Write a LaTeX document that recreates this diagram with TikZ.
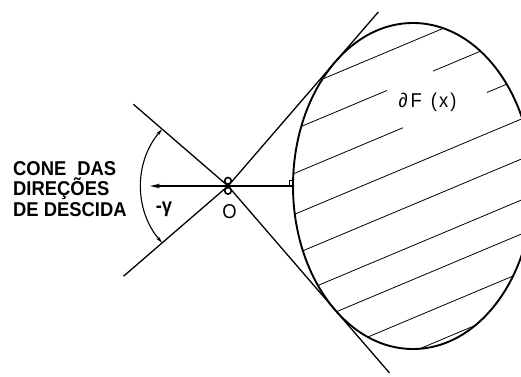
\documentclass[tikz,border=0pt]{standalone}
\usepackage{fontspec}
\setmainfont{Liberation Sans}
\newfontfamily\lettering[FakeStretch=0.92]{Liberation Sans}
\usetikzlibrary{arrows.meta,calc}
\begin{document}
\begin{tikzpicture}[x=1pt,y=1pt,
  rim/.style={line width=1.9pt},
  ray/.style={line width=1.3pt},
  hatch/.style={line width=0.8pt},
  lbl/.style={font=\lettering\fontsize{20}{22}\selectfont\bfseries, inner sep=0pt},
  plain/.style={font=\lettering\fontsize{20}{22}\selectfont, inner sep=0pt}]
\useasboundingbox (0,0) rectangle (521,376);
\coordinate (O) at (228,190);
\coordinate (C) at (413,190);
\coordinate (T1) at ($(O)+(49.18:230)$);
\coordinate (T2) at ($(O)+(-49.18:247)$);
\coordinate (K1) at ($(O)+(139.18:125)$);
\coordinate (K2) at ($(O)+(220.82:138)$);
\coordinate (P) at (293,190);
\coordinate (G) at (150,190);
% hatching
\begin{scope}
  \clip (C) ellipse [x radius=120, y radius=163];
  \foreach \c/\xa/\xb in {214.5/280/540, 253/280/387, 253/433/540, 297/280/403, 297/487/540,
      338/280/540, 378/280/540, 419/280/540, 453/280/540, 491.5/280/540, 525/280/540}
    \draw[hatch] (\xa,{376-\c+0.42*\xa}) -- (\xb,{376-\c+0.42*\xb});
\end{scope}
\draw[rim] (C) ellipse [x radius=120, y radius=163];
% tangent lines and cone boundaries
\draw[ray] (O) -- (T1);
\draw[ray] (O) -- (T2);
\draw[ray] (O) -- (K1);
\draw[ray] (O) -- (K2);
% minimum-norm direction
\draw[line width=1.3pt] (P) -- (O);
\draw[line width=1.8pt, -{Stealth[length=10pt,width=4.5pt]}] (O) -- (G);
\draw[line width=1pt] (289,190) -- (289,196) -- (293.5,196);
% cone angle arc
\draw[line width=1.1pt, {Stealth[length=7pt,width=3.5pt]}-{Stealth[length=7pt,width=3.5pt]}]
  ([shift={(139.18:87)}]O) arc[start angle=139.18, end angle=220.82, radius=87];
% origin marks
\draw[line width=1.6pt, fill=white] (228,195.2) circle (3.3);
\draw[line width=1.6pt, fill=white] (228,185.2) circle (3.3);
% labels
\node[lbl, anchor=base west] (l1) at (13,201) {CONE\hspace{11pt}DAS};
\node[lbl, anchor=base west] (l2) at (13,180.5) {DIREÇÕES};
\node[lbl, anchor=base west] (l3) at (13,159.5) {DE DESCIDA};
\node[lbl] (g) at (164,167) {-γ};
\node[plain] (o) at (229.5,164.5) {O};
\node[plain] (df) at (427.5,273.5) {∂\hspace{3pt}F\hspace{9pt}(\hspace{2pt}x\hspace{2pt})};
\end{tikzpicture}
\end{document}
